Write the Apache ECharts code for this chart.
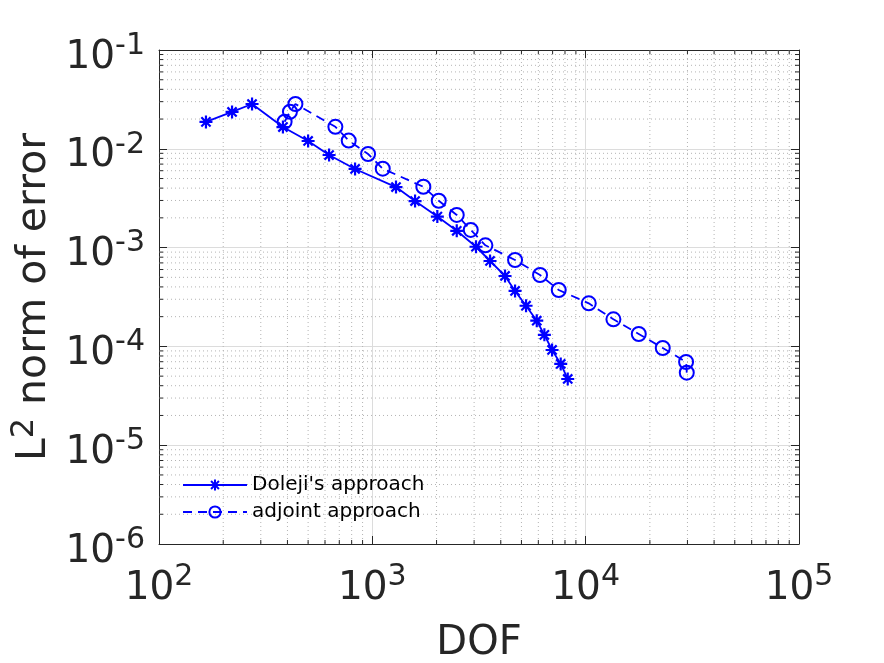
<!DOCTYPE html>
<html>
<head>
<meta charset="utf-8">
<script src="https://cdn.jsdelivr.net/npm/echarts@6/dist/echarts.min.js"></script>
<style>
  html, body { margin: 0; padding: 0; background: #fff; }
  #main { width: 884px; height: 663px; }
</style>
</head>
<body>
<div id="main"></div>
<script>
// values (DOF, L2 error)
const dolejiDof = [166, 220, 273, 381, 500, 627, 830, 1291, 1586, 2017, 2487, 3062,
                   3562, 4188, 4667, 5255, 5899, 6404, 6959, 7640, 8240];
const dolejiErr = [0.0187, 0.0236, 0.0284, 0.0166, 0.0120, 0.00865, 0.00625, 0.0041, 0.00296, 0.00206, 0.00148, 0.00102,
                   7.32e-4, 5.16e-4, 3.64e-4, 2.58e-4, 1.82e-4, 1.31e-4, 9.2e-5, 6.64e-5, 4.68e-5];

const adjointDof = [388, 411, 436, 671, 775, 955, 1119, 1734, 2048, 2487, 2893, 3388,
                    4667, 6111, 7478, 10340, 13490, 17740, 22980, 29560, 29780];
const adjointErr = [0.0188, 0.0237, 0.0284, 0.0167, 0.0121, 0.00886, 0.00629, 0.00413, 0.00298, 0.00214, 0.00151, 0.001055,
                    7.49e-4, 5.28e-4, 3.72e-4, 2.73e-4, 1.88e-4, 1.335e-4, 9.64e-5, 6.95e-5, 5.42e-5];

const xRange = [1e2, 1e5];
const yRange = [1e-6, 1e-1];

// minor ticks at 2..9 of each decade
function minorTicks(lo, hi) {
  const out = [];
  for (let e = Math.round(Math.log10(lo)); e < Math.round(Math.log10(hi)); e++) {
    for (let k = 2; k <= 9; k++) out.push(k * Math.pow(10, e));
  }
  return out;
}
const xMinor = minorTicks(xRange[0], xRange[1]);
const yMinor = minorTicks(yRange[0], yRange[1]);

const FONT = 'DejaVu Sans';
const TXT = '#262626';
const BLUE = '#0000ff';
const STAR = 'path://M0,-10L0,10M-10,0L10,0M-7.07,-7.07L7.07,7.07M-7.07,7.07L7.07,-7.07';

function powLabel(v) {
  const e = Math.round(Math.log10(v));
  return '{b|10}{s|' + e + '}';
}
const labelRich = {
  b: { fontFamily: FONT, fontSize: 39, color: TXT, lineHeight: 40, verticalAlign: 'bottom' },
  s: { fontFamily: FONT, fontSize: 30, color: TXT, lineHeight: 30, verticalAlign: 'bottom', padding: [0, 0, 16, 0] }
};

const chart = echarts.init(document.getElementById('main'));

chart.setOption({
  animation: false,
  backgroundColor: '#fff',
  grid: { left: 159, right: 85, top: 50, bottom: 119, containLabel: false, outerBoundsMode: 'none' },
  legend: {
    data: ["Doleji's approach", 'adjoint approach'],
    orient: 'vertical',
    left: 177,
    top: 470,
    itemWidth: 64,
    itemHeight: 14,
    itemGap: 7,
    selectedMode: false,
    textStyle: { fontFamily: FONT, fontSize: 20, color: '#000' }
  },
  xAxis: [
    {
      type: 'log', logBase: 10, min: xRange[0], max: xRange[1],
      position: 'bottom',
      name: 'DOF', nameLocation: 'middle', nameGap: 80,
      nameTextStyle: { fontFamily: FONT, fontSize: 40, color: TXT },
      axisLine: { lineStyle: { color: TXT, width: 1 } },
      axisTick: { inside: true, length: 8, lineStyle: { color: TXT } },
      splitLine: { show: true, lineStyle: { color: '#dcdcdc', width: 1 } },
      axisLabel: { margin: 24, formatter: powLabel, rich: labelRich }
    },
    {
      type: 'log', logBase: 10, min: xRange[0], max: xRange[1],
      position: 'top',
      axisLine: { lineStyle: { color: TXT, width: 1 } },
      axisTick: { inside: true, length: 8, lineStyle: { color: TXT } },
      splitLine: { show: false },
      axisLabel: { show: false }
    }
  ],
  yAxis: [
    {
      type: 'log', logBase: 10, min: yRange[0], max: yRange[1],
      position: 'left',
      name: 'L{s|2} norm of error', nameLocation: 'middle', nameGap: 95,
      nameTextStyle: {
        fontFamily: FONT, fontSize: 41, color: TXT,
        rich: { s: { fontFamily: FONT, fontSize: 32, color: TXT, verticalAlign: 'bottom', padding: [0, 0, 18, 0] } }
      },
      axisLine: { lineStyle: { color: TXT, width: 1 } },
      axisTick: { inside: true, length: 8, lineStyle: { color: TXT } },
      splitLine: { show: true, lineStyle: { color: '#dcdcdc', width: 1 } },
      axisLabel: { margin: 14, padding: [14, 0, 0, 0], formatter: powLabel, rich: labelRich }
    },
    {
      type: 'log', logBase: 10, min: yRange[0], max: yRange[1],
      position: 'right',
      axisLine: { lineStyle: { color: TXT, width: 1 } },
      axisTick: { inside: true, length: 8, lineStyle: { color: TXT } },
      splitLine: { show: false },
      axisLabel: { show: false }
    }
  ],
  series: [
    {
      name: 'xminor', type: 'custom', silent: true, z: 1,
      data: xMinor.map(v => [v, yRange[0]]),
      renderItem: function (params, api) {
        const v = api.value(0);
        const top = api.coord([v, yRange[1]]);
        const bot = api.coord([v, yRange[0]]);
        return {
          type: 'group',
          children: [
            { type: 'line', shape: { x1: top[0], y1: top[1], x2: bot[0], y2: bot[1] },
              style: { stroke: '#b4b4b4', lineWidth: 1, lineDash: [1, 3] } },
            { type: 'line', shape: { x1: bot[0], y1: bot[1], x2: bot[0], y2: bot[1] - 4 },
              style: { stroke: TXT, lineWidth: 1 } },
            { type: 'line', shape: { x1: top[0], y1: top[1], x2: top[0], y2: top[1] + 4 },
              style: { stroke: TXT, lineWidth: 1 } }
          ]
        };
      }
    },
    {
      name: 'yminor', type: 'custom', silent: true, z: 1,
      data: yMinor.map(v => [xRange[0], v]),
      renderItem: function (params, api) {
        const v = api.value(1);
        const l = api.coord([xRange[0], v]);
        const r = api.coord([xRange[1], v]);
        return {
          type: 'group',
          children: [
            { type: 'line', shape: { x1: l[0], y1: l[1], x2: r[0], y2: r[1] },
              style: { stroke: '#b4b4b4', lineWidth: 1, lineDash: [1, 3] } },
            { type: 'line', shape: { x1: l[0], y1: l[1], x2: l[0] + 4, y2: l[1] },
              style: { stroke: TXT, lineWidth: 1 } },
            { type: 'line', shape: { x1: r[0], y1: r[1], x2: r[0] - 4, y2: r[1] },
              style: { stroke: TXT, lineWidth: 1 } }
          ]
        };
      }
    },
    {
      name: "Doleji's approach", type: 'line', z: 3,
      data: dolejiDof.map((d, i) => [d, dolejiErr[i]]),
      symbol: STAR, symbolSize: 13,
      lineStyle: { color: BLUE, width: 1.8, type: 'solid' },
      itemStyle: { color: BLUE, borderColor: BLUE, borderWidth: 2.2 },
      emphasis: { disabled: true }
    },
    {
      name: 'adjoint approach', type: 'line', z: 3,
      data: adjointDof.map((d, i) => [d, adjointErr[i]]),
      symbol: 'circle', symbolSize: 14,
      lineStyle: { color: BLUE, width: 1.8, type: [9, 6] },
      itemStyle: { color: 'rgba(0,0,0,0)', borderColor: BLUE, borderWidth: 2 },
      emphasis: { disabled: true }
    }
  ]
});
</script>
</body>
</html>
